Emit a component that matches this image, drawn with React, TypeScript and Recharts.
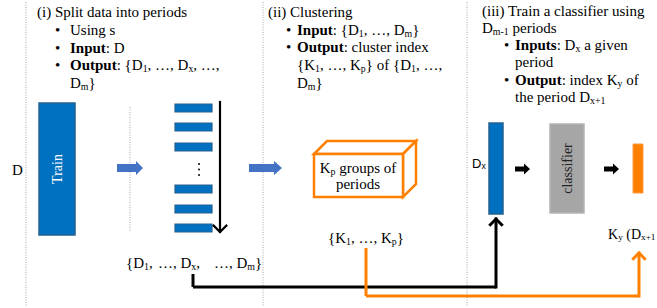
import {
    ReferenceArea,
    ReferenceDot,
    ReferenceLine,
    Scatter,
    ScatterChart,
    XAxis,
    YAxis,
} from "recharts";

const SERIF = "'Liberation Serif', 'Times New Roman', serif";
const SANS = "'Liberation Sans', Arial, sans-serif";

// text of the three steps; **bold**, _x / _{xy} = subscript
const stepSplit = [
    "(i) Split data into periods",
    "Using s",
    "**Input**: D",
    "**Output**: {D_1, …, D_x, …,",
    "D_m}",
];
const stepCluster = [
    "(ii) Clustering",
    "**Input**: {D_1, …, D_m}",
    "**Output**: cluster index",
    "{K_1, …, K_p} of {D_1, …,",
    "D_m}",
];
const stepClassify = [
    "(iii) Train a classifier using",
    "D_{m-1} periods",
    "**Inputs**: D_x a given",
    "period",
    "**Output**: index K_y of",
    "the period D_{x+1}",
];
// which lines carry a bullet / are indented
const splitKinds = ["title", "bullet", "bullet", "bullet", "cont"];
const clusterKinds = ["title", "bullet", "bullet", "cont", "cont"];
const classifyKinds = ["title", "title", "bullet", "cont", "bullet", "cont"];

const periodLabels = ["{D_1,", "…, D_x,", "…, D_m}"];
const clusterLabel = "{K_1, …, K_p}";
const boxLabel = ["K_p groups of", "periods"];
const outputLabel = "K_y (D_{x+1}";
const dataLabel = "D";
const periodLabel = "D_x";
const trainLabel = "Train";
const classifierLabel = "classifier";

const BLUE = "#0070C0";
const BLUE_EDGE = "#25618f";
const ORANGE = "#FF8000";

function RichText({ x, y, text, size = 15, anchor = "start", family = SERIF, fill = "#000" }: any) {
    const parts = String(text).split(/(\*\*[^*]+\*\*|_\{[^}]+\}|_[^\s{])/).filter(Boolean);
    let shift = 0;
    const spans = parts.map((p: string, i: number) => {
        if (p.startsWith("**")) {
            const dy = -shift;
            shift = 0;
            return (
                <tspan key={i} dy={dy} fontWeight="bold">
                    {p.slice(2, -2)}
                </tspan>
            );
        }
        if (p.startsWith("_")) {
            const s = p.startsWith("_{") ? p.slice(2, -1) : p.slice(1);
            const dy = 3 - shift;
            shift = 3;
            return (
                <tspan key={i} dy={dy} fontSize={size * 0.66}>
                    {s}
                </tspan>
            );
        }
        const dy = -shift;
        shift = 0;
        return (
            <tspan key={i} dy={dy}>
                {p}
            </tspan>
        );
    });
    return (
        <text x={x} y={y} fontSize={size} fontFamily={family} fill={fill} textAnchor={anchor} dominantBaseline="central">
            {spans}
        </text>
    );
}

function columnItems(lines: string[], kinds: string[], titleX: number, bulletX: number, textX: number, y0: number, step: number) {
    const items: any[] = [];
    lines.forEach((t, i) => {
        const y = y0 + i * step;
        const k = kinds[i];
        if (k === "bullet") items.push({ x: bulletX, y, text: "•" });
        items.push({ x: k === "title" ? titleX : textX, y, text: t });
    });
    return items;
}

const textItems = [
    ...columnItems(stepSplit, splitKinds, 37, 55, 70, 12, 17.8),
    ...columnItems(stepCluster, clusterKinds, 268, 286, 297, 12, 17.7),
    ...columnItems(stepClassify, classifyKinds, 482, 504, 515, 10.5, 17.3),
    { x: 126, y: 263, text: periodLabels[0] },
    { x: 158, y: 263, text: periodLabels[1] },
    { x: 214, y: 263, text: periodLabels[2] },
    { x: 366, y: 238, text: clusterLabel, anchor: "middle" },
    { x: 358, y: 168, text: boxLabel[0], anchor: "middle" },
    { x: 358, y: 184, text: boxLabel[1], anchor: "middle" },
    { x: 608, y: 234, text: outputLabel, size: 14 },
    { x: 12, y: 170, text: dataLabel },
    { x: 472, y: 163, text: periodLabel, family: SANS, size: 13 },
];

const stackedRows = [108, 127, 147, 189, 209, 228];
const ellipsisDots = [164, 169.5, 175];

function lineArrow(color: string, width: number, head = 7) {
    return (p: any) => {
        const { x1, y1, x2, y2 } = p;
        const a = Math.atan2(y2 - y1, x2 - x1);
        const l = [x2 - head * Math.cos(a - Math.PI / 4), y2 - head * Math.sin(a - Math.PI / 4)];
        const r = [x2 - head * Math.cos(a + Math.PI / 4), y2 - head * Math.sin(a + Math.PI / 4)];
        return (
            <g>
                <line x1={x1} y1={y1} x2={x2} y2={y2} stroke={color} strokeWidth={width} strokeLinecap="square" />
                <polyline
                    points={`${l[0]},${l[1]} ${x2},${y2} ${r[0]},${r[1]}`}
                    fill="none"
                    stroke={color}
                    strokeWidth={width}
                    strokeLinecap="square"
                />
            </g>
        );
    };
}

function blockArrow(color: string, s: number, h: number, len: number) {
    return (p: any) => {
        const { x1, y1, x2 } = p;
        const y = y1;
        const pts = [
            [x1, y - s],
            [x2 - len, y - s],
            [x2 - len, y - h],
            [x2, y],
            [x2 - len, y + h],
            [x2 - len, y + s],
            [x1, y + s],
        ];
        return <polygon points={pts.map((q) => q.join(",")).join(" ")} fill={color} />;
    };
}

function rotatedBox(fill: string, stroke: string, label: string, color: string) {
    return (p: any) => (
        <g>
            <rect x={p.x} y={p.y} width={p.width} height={p.height} fill={fill} stroke={stroke} strokeWidth={1.5} />
            <text
                transform={`translate(${p.x + p.width / 2},${p.y + p.height / 2}) rotate(-90)`}
                textAnchor="middle"
                dominantBaseline="central"
                fill={color}
                fontSize={14}
                fontFamily={SERIF}
            >
                {label}
            </text>
        </g>
    );
}

function cubeShape(p: any) {
    const d = 13;
    const { x, y, width: w, height: h } = p;
    return (
        <g fill="#fff" stroke={ORANGE} strokeWidth={2.5} strokeLinejoin="miter">
            <path d={`M${x},${y} L${x + d},${y - d} L${x + w + d},${y - d} L${x + w},${y} Z`} />
            <path d={`M${x + w},${y} L${x + w + d},${y - d} L${x + w + d},${y + h - d} L${x + w},${y + h} Z`} />
            <rect x={x} y={y} width={w} height={h} />
        </g>
    );
}

const dotted = { stroke: "#a8a8a8", strokeWidth: 1, strokeDasharray: "1 1.5" };

export default function App() {
    return (
        <div style={{ position: "absolute", left: 0, top: 0, width: 657, height: 308, background: "#fff" }}>
            <ScatterChart width={657} height={308} margin={{ top: 0, right: 0, bottom: 0, left: 0 }}>
                <XAxis type="number" dataKey="x" domain={[0, 657]} allowDataOverflow hide />
                <YAxis type="number" dataKey="y" domain={[0, 308]} allowDataOverflow reversed hide />

                {/* column separators */}
                <ReferenceLine segment={[{ x: 26, y: 2 }, { x: 26, y: 306 }]} {...dotted} />
                <ReferenceLine segment={[{ x: 263, y: 2 }, { x: 263, y: 306 }]} {...dotted} />
                <ReferenceLine segment={[{ x: 467, y: 2 }, { x: 467, y: 306 }]} {...dotted} />
                <ReferenceLine segment={[{ x: 130, y: 107 }, { x: 130, y: 232 }]} {...dotted} />

                {/* step i */}
                <ReferenceArea x1={39} x2={75} y1={103} y2={235} shape={rotatedBox(BLUE, BLUE_EDGE, trainLabel, "#fff")} />
                <ReferenceLine segment={[{ x: 117, y: 168 }, { x: 143, y: 168 }]} shape={blockArrow("#4472C4", 4, 7, 7)} />
                {stackedRows.map((cy) => (
                    <ReferenceArea
                        key={cy}
                        x1={175}
                        x2={212}
                        y1={cy - 4}
                        y2={cy + 4}
                        fill={BLUE}
                        fillOpacity={1}
                        stroke={BLUE_EDGE}
                        strokeWidth={1.2}
                    />
                ))}
                {ellipsisDots.map((cy) => (
                    <ReferenceDot key={cy} x={199} y={cy} r={1} fill="#000" stroke="none" />
                ))}
                <ReferenceLine segment={[{ x: 220, y: 102 }, { x: 220, y: 232 }]} shape={lineArrow("#000", 2.2, 9)} />

                {/* step ii */}
                <ReferenceLine segment={[{ x: 249, y: 168 }, { x: 282, y: 168 }]} shape={blockArrow("#4472C4", 4, 7, 8)} />
                <ReferenceArea x1={314} x2={403} y1={154} y2={197} shape={cubeShape} />

                {/* step iii */}
                <ReferenceArea x1={489} x2={503} y1={123} y2={214} fill={BLUE} fillOpacity={1} stroke={BLUE_EDGE} strokeWidth={1.5} />
                <ReferenceLine segment={[{ x: 515, y: 169 }, { x: 530, y: 169 }]} shape={blockArrow("#000", 2.6, 5.5, 6)} />
                <ReferenceArea x1={550} x2={584} y1={124} y2={213} shape={rotatedBox("#A6A6A6", "#b4b4b4", classifierLabel, "#222")} />
                <ReferenceLine segment={[{ x: 604, y: 169 }, { x: 619, y: 169 }]} shape={blockArrow("#000", 2.6, 5.5, 6)} />
                <ReferenceArea x1={633} x2={643} y1={144} y2={193} fill={ORANGE} fillOpacity={1} stroke="#ff9a40" strokeWidth={1} />

                {/* connectors */}
                <ReferenceLine segment={[{ x: 193, y: 274 }, { x: 193, y: 287 }]} stroke="#000" strokeWidth={3} />
                <ReferenceLine segment={[{ x: 193, y: 287 }, { x: 496, y: 287 }]} stroke="#000" strokeWidth={3} />
                <ReferenceLine segment={[{ x: 496, y: 287 }, { x: 496, y: 219 }]} shape={lineArrow("#000", 3, 8)} />
                <ReferenceLine segment={[{ x: 366, y: 248 }, { x: 366, y: 296 }]} stroke={ORANGE} strokeWidth={3} />
                <ReferenceLine segment={[{ x: 366, y: 296 }, { x: 639, y: 296 }]} stroke={ORANGE} strokeWidth={3} />
                <ReferenceLine segment={[{ x: 639, y: 296 }, { x: 639, y: 253 }]} shape={lineArrow(ORANGE, 3, 8)} />

                <Scatter
                    data={textItems}
                    isAnimationActive={false}
                    shape={(p: any) => (
                        <RichText
                            x={p.cx}
                            y={p.cy}
                            text={p.payload.text}
                            size={p.payload.size}
                            anchor={p.payload.anchor}
                            family={p.payload.family}
                        />
                    )}
                />
            </ScatterChart>
        </div>
    );
}
